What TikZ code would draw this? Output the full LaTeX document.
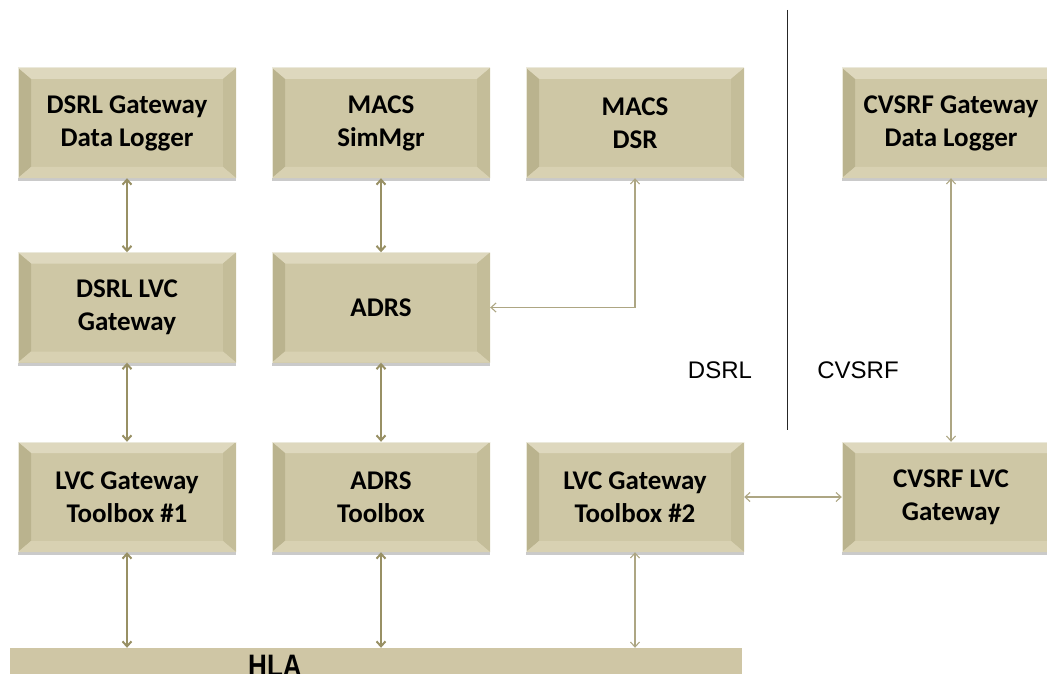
\documentclass[tikz,border=0pt]{standalone}
\usepackage{fontspec}
\setmainfont{Carlito}
\newfontfamily\arialf{Liberation Sans}
\newfontfamily\narrowf[FakeStretch=0.84]{Liberation Sans}
\usetikzlibrary{arrows.meta,shadows,calc}
\definecolor{face}{RGB}{206,199,165}
\definecolor{bevtop}{RGB}{222,216,190}
\definecolor{bevleft}{RGB}{186,179,142}
\definecolor{bevright}{RGB}{196,189,153}
\definecolor{bevbot}{RGB}{216,209,178}
\definecolor{arrowc}{RGB}{152,144,100}
\definecolor{hlac}{RGB}{207,198,165}
\tikzset{
  bevel/.style={minimum width=218pt, minimum height=110pt, inner sep=0pt, align=center,
    fill=face, font=\fontsize{27}{33}\selectfont\bfseries,
    drop shadow={shadow xshift=0pt, shadow yshift=-3pt, opacity=0.35, fill=black!60},
    path picture={
      \coordinate (nw) at (path picture bounding box.north west);
      \coordinate (ne) at (path picture bounding box.north east);
      \coordinate (sw) at (path picture bounding box.south west);
      \coordinate (se) at (path picture bounding box.south east);
      \coordinate (inw) at ([xshift=13pt,yshift=-11pt]nw);
      \coordinate (ine) at ([xshift=-13pt,yshift=-11pt]ne);
      \coordinate (isw) at ([xshift=13pt,yshift=11pt]sw);
      \coordinate (ise) at ([xshift=-13pt,yshift=11pt]se);
      \fill[bevtop] (nw) -- (ne) -- (ine) -- (inw) -- cycle;
      \fill[bevleft] (nw) -- (inw) -- (isw) -- (sw) -- cycle;
      \fill[bevright] (ne) -- (ine) -- (ise) -- (se) -- cycle;
      \fill[bevbot] (sw) -- (isw) -- (ise) -- (se) -- cycle;
      \draw[white!60!face, line width=1pt] (sw) -- (nw) -- (ne);
    }},
  link/.style={draw=arrowc, line width=2pt, {Straight Barb[length=5pt,width=9pt]}-{Straight Barb[length=5pt,width=9pt]}},
  thinlink/.style={draw=arrowc!80, line width=1.1pt, {Straight Barb[length=5pt,width=9pt]}-{Straight Barb[length=5pt,width=9pt]}},
  region/.style={font=\arialf\fontsize{24}{28}\selectfont, anchor=base}
}
\begin{document}
\begin{tikzpicture}[x=1pt,y=-1pt]
\useasboundingbox (0,0) rectangle (1047,674);
% row 1
\node[bevel] (dlog) at (127,123) {DSRL Gateway\\Data Logger};
\node[bevel] (simmgr) at (381,123) {MACS\\SimMgr};
\node[bevel] (dsr) at (635,123) {MACS\\DSR};
\node[bevel] (clog) at (951,123) {CVSRF Gateway\\Data Logger};
% row 2
\node[bevel] (dlvc) at (127,307.5) {DSRL LVC\\Gateway};
\node[bevel] (adrs) at (381,307.5) {ADRS};
% row 3
\node[bevel] (tb1) at (127,497) {LVC Gateway\\Toolbox \#1};
\node[bevel] (atb) at (381,497) {ADRS\\Toolbox};
\node[bevel] (tb2) at (635,497) {LVC Gateway\\Toolbox \#2};
\node[bevel] (clvc) at (951,497) {CVSRF LVC\\Gateway};
% HLA bar
\node[fill=hlac, minimum width=732pt, minimum height=32pt, inner sep=0pt] (hla) at (376,664) {};
\node[font=\narrowf\fontsize{31}{31}\selectfont\bfseries, anchor=base] (hlat) at (275,676) {HLA};
% divider
\coordinate (dtop) at (787,10);
\coordinate (dbot) at (787,430);
\draw[black!85, line width=1pt] (dtop) -- (dbot);
\node[region] (dsrl) at (720,378) {DSRL};
\node[region] (cvsrf) at (858,378) {CVSRF};
% connectors
\draw[link] (dlog.south) -- (dlvc.north);
\draw[link] (simmgr.south) -- (adrs.north);
\draw[link] (dlvc.south) -- (tb1.north);
\draw[link] (adrs.south) -- (atb.north);
\draw[link] (tb1.south) -- (tb1.south |- hla.north);
\draw[link] (atb.south) -- (atb.south |- hla.north);
\draw[thinlink] (tb2.south) -- (tb2.south |- hla.north);
\draw[thinlink] (dsr.south) |- (adrs.east);
\draw[thinlink] (clog.south) -- (clvc.north);
\draw[thinlink] (tb2.east) -- (clvc.west);
\end{tikzpicture}
\end{document}
